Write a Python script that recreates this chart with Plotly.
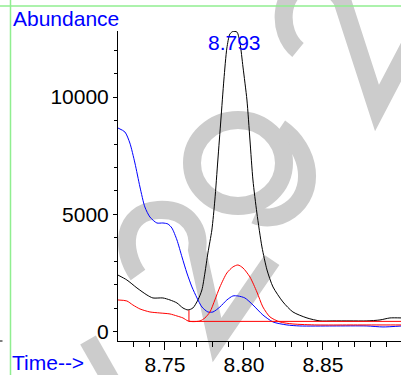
import plotly.graph_objects as go

# ---- data ----
black_t = [8.7203, 8.7259, 8.7323, 8.7386, 8.7424, 8.7487, 8.7532, 8.7576, 8.7614, 8.7646,
           8.7677, 8.7709, 8.7734, 8.7753, 8.7772, 8.7797, 8.7816, 8.7835, 8.7854, 8.7873,
           8.7892, 8.7911, 8.7930, 8.7956, 8.7975, 8.7994, 8.8019, 8.8038, 8.8057, 8.8082,
           8.8114, 8.8146, 8.8184, 8.8247, 8.8310, 8.8399, 8.8481, 8.8563, 8.8671, 8.8778,
           8.8861, 8.8924, 8.9000]
black_v = [2420, 2213, 1872, 1574, 1447, 1447, 1362, 1234, 1021, 936,
           1021, 1362, 1787, 2510, 3361, 4340, 5617, 7319, 9021, 10723,
           12084, 12680, 12790, 12765, 12297, 11276, 9872, 8170, 6468, 5063,
           3617, 2638, 1915, 1277, 851, 596, 470, 470, 470, 470,
           511, 596, 596]

blue_t = [8.7203, 8.7247, 8.7278, 8.7310, 8.7342, 8.7373, 8.7405, 8.7449, 8.7487, 8.7519,
          8.7544, 8.7576, 8.7608, 8.7639, 8.7671, 8.7703, 8.7734, 8.7772, 8.7804, 8.7848,
          8.7892, 8.7930, 8.7962, 8.8006, 8.8057, 8.8120, 8.8184, 8.8272, 8.8354, 8.8563,
          8.8778, 8.8880, 8.9000]
blue_v = [8680, 8510, 8042, 7191, 6170, 5319, 4893, 4638, 4638, 4595,
          4425, 3915, 3191, 2510, 1915, 1447, 1064, 851, 851, 1064,
          1362, 1532, 1532, 1447, 1149, 723, 426, 298, 255, 255,
          255, 213, 255]

red_t = [8.7203, 8.7259, 8.7297, 8.7342, 8.7405, 8.7468, 8.7532, 8.7576, 8.7614, 8.7646,
         8.7677, 8.7722, 8.7753, 8.7785, 8.7816, 8.7848, 8.7892, 8.7930, 8.7962, 8.7994,
         8.8038, 8.8082, 8.8120, 8.8165, 8.8228, 8.8310, 8.8462, 8.8671, 8.8880, 8.9000]
red_v = [1362, 1319, 1149, 979, 851, 808, 766, 681, 596, 468,
         440, 468, 596, 851, 1362, 1915, 2510, 2766, 2851, 2723,
         2340, 1702, 1064, 638, 426, 340, 298, 298, 298, 298]

baseline_t = [8.7652, 8.7652, 8.9000]
baseline_v = [930, 450, 450]

peak_time = 8.793
peak_label = "8.793"

x_tick_vals = [8.75, 8.80, 8.85]
x_tick_text = ["8.75", "8.80", "8.85"]
y_tick_vals = [0, 5000, 10000]
y_tick_text = ["0", "5000", "10000"]

x_range = [8.7203, 8.8994]
y_range = [-385, 12810]

# ---- layout geometry (pixels) ----
W, H = 401, 375
L, R, T, B = 118, 0, 31, 34
PW, PH = W - L - R, H - T - B


def px(x):
    return (x - L) / PW


def py(y):
    return (H - B - y) / PH


def path(cmds):
    out = []
    for c in cmds:
        if isinstance(c, str):
            out.append(c)
        else:
            out.append(f"{px(c[0]):.4f},{py(c[1]):.4f}")
    return " ".join(out)


FONT = "Liberation Sans, Arial, Helvetica, sans-serif"
fig = go.Figure()

line_kw = dict(shape="spline", smoothing=0.7, width=1)
fig.add_trace(go.Scatter(x=black_t, y=black_v, mode="lines",
                         line=dict(color="#000000", **line_kw), showlegend=False))
fig.add_trace(go.Scatter(x=blue_t, y=blue_v, mode="lines",
                         line=dict(color="#0000ff", **line_kw), showlegend=False))
fig.add_trace(go.Scatter(x=red_t, y=red_v, mode="lines",
                         line=dict(color="#ff0000", **line_kw), showlegend=False))
fig.add_trace(go.Scatter(x=baseline_t, y=baseline_v, mode="lines",
                         line=dict(color="#ff0000", width=1), showlegend=False))

# ---- watermark (decoration) ----
GRAY = "#cccccc"
SW = 18
shapes = []
wm_paths = [
    ["M", (298, 50), "C", (276, 32), (280, -10), (305, -15), "C", (325, -18), (335, -10), (342, 0),
     "L", (377, 108), "L", (410, 45)],
    ["M", (138, 275), "C", (120, 250), (122, 212), (158, 210), "C", (190, 208), (200, 232), (197, 250),
     "L", (217, 340), "L", (272, 260)],
    ["M", (280, 128), "C", (312, 150), (316, 192), (290, 210), "C", (276, 220), (262, 218), (255, 215)],
    ["M", (88, 340), "L", (112, 382)],
]
for p in wm_paths:
    shapes.append(dict(type="path", xref="paper", yref="paper", path=path(p),
                       line=dict(color=GRAY, width=SW), layer="below"))
shapes.append(dict(type="circle", xref="paper", yref="paper",
                   x0=px(238 - 46), x1=px(238 + 46), y0=py(163 + 43), y1=py(163 - 43),
                   line=dict(color=GRAY, width=SW), layer="below"))

# green frame lines
GREEN = "#90ee90"
shapes.append(dict(type="line", xref="paper", yref="paper", x0=px(0), x1=px(W), y0=py(6), y1=py(6),
                   line=dict(color=GREEN, width=1.5)))
shapes.append(dict(type="line", xref="paper", yref="paper", x0=px(10.5), x1=px(10.5), y0=py(0), y1=py(H),
                   line=dict(color=GREEN, width=1.5)))
# tiny dash at left edge
shapes.append(dict(type="line", xref="paper", yref="paper", x0=px(0), x1=px(2.5), y0=py(341), y1=py(341),
                   line=dict(color="#000000", width=1)))

annotations = [
    dict(text="Abundance", xref="paper", yref="paper", x=px(11), y=py(18.5),
         xanchor="left", yanchor="middle", showarrow=False,
         font=dict(family=FONT, size=21, color="#0000ff")),
    dict(text="Time-->", xref="paper", yref="paper", x=px(11), y=py(375),
         xanchor="left", yanchor="bottom", showarrow=False, borderpad=0,
         font=dict(family=FONT, size=21, color="#0000ff")),
    dict(text=peak_label, xref="x", yref="paper", x=peak_time + 0.0013, y=py(42),
         xanchor="center", yanchor="middle", showarrow=False,
         font=dict(family=FONT, size=21, color="#0000ff")),
]

fig.update_layout(
    width=W, height=H,
    margin=dict(l=L, r=R, t=T, b=B, pad=0, autoexpand=False),
    paper_bgcolor="#ffffff",
    plot_bgcolor="rgba(0,0,0,0)",
    font=dict(family=FONT, size=21, color="#000000"),
    shapes=shapes,
    annotations=annotations,
    xaxis=dict(range=x_range, tickmode="array", tickvals=x_tick_vals, ticktext=x_tick_text,
               automargin=False, ticklabelstandoff=-3,
               ticks="outside", ticklen=8, tickwidth=1, tickcolor="#000000",
               showline=True, linecolor="#000000", linewidth=1,
               showgrid=False, zeroline=False,
               tickfont=dict(family=FONT, size=21, color="#000000"),
               minor=dict(tickmode="linear", tick0=8.70, dtick=0.01, ticks="outside",
                          ticklen=5, tickcolor="#000000", tickwidth=1, showgrid=False)),
    yaxis=dict(range=y_range, tickmode="array", tickvals=y_tick_vals, ticktext=y_tick_text,
               automargin=False,
               ticks="outside", ticklen=4, tickwidth=1, tickcolor="#000000",
               showline=True, linecolor="#000000", linewidth=1,
               showgrid=False, zeroline=False,
               tickfont=dict(family=FONT, size=21, color="#000000"),
               minor=dict(tickmode="linear", tick0=0, dtick=1000, ticks="outside",
                          ticklen=3, tickcolor="#000000", tickwidth=1, showgrid=False)),
)

# remove the browser's default 8px page margin so the figure sits at the top-left corner
fig.write_html("out.html", config={"displayModeBar": False},
               post_script="document.body.style.margin='0px';document.body.style.overflow='hidden';")
